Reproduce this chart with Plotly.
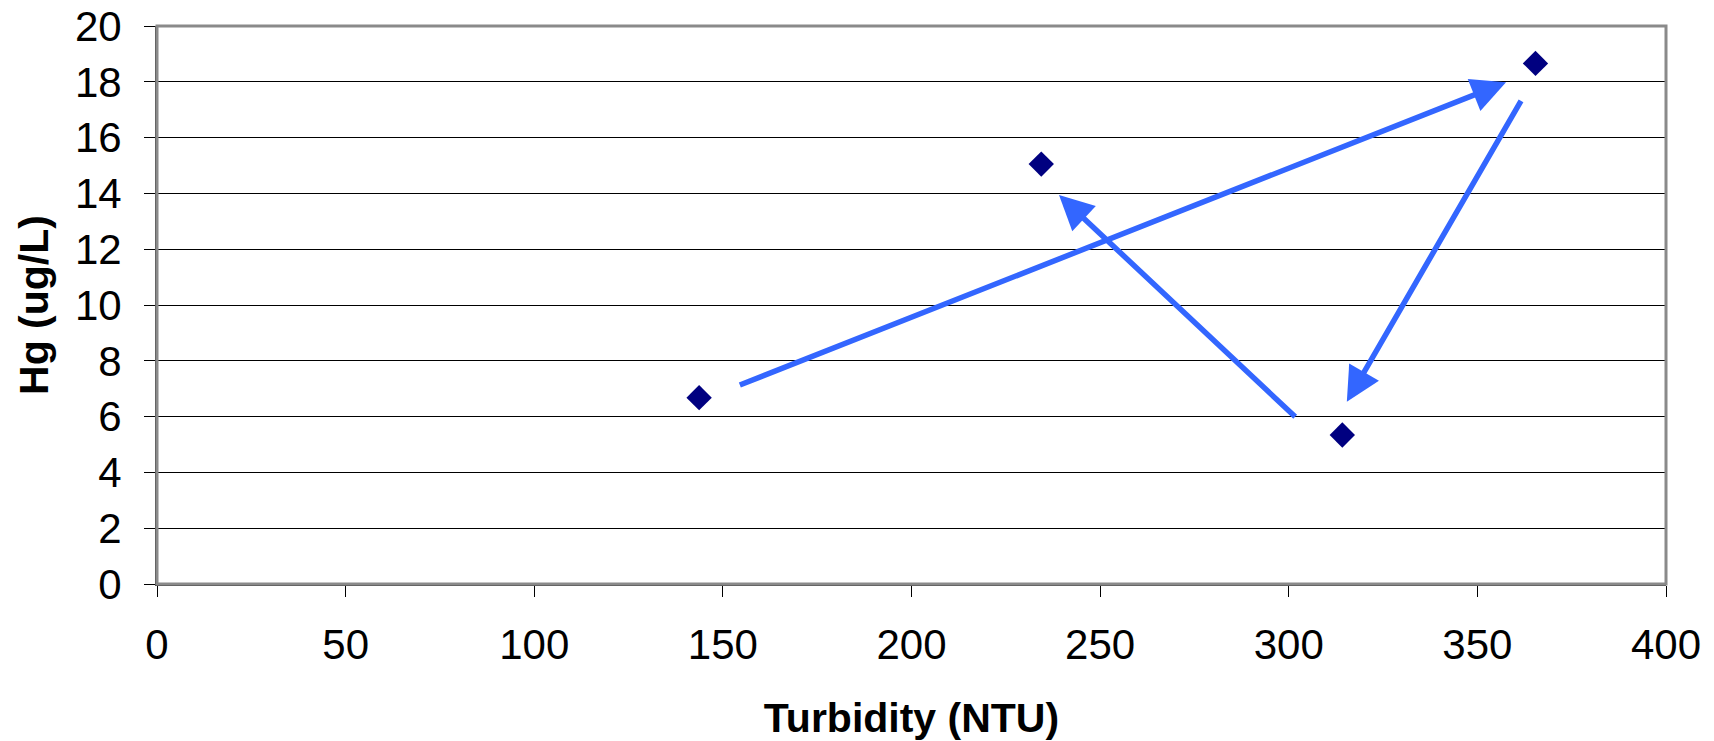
import plotly.graph_objects as go

# Data
turbidity = [143.7, 234.4, 365.4, 314.2]
mercury = [6.68, 15.05, 18.66, 5.34]

# Arrows (tail -> head) in data units
arrow_tail_x = [154.1, 361.8, 302.1]
arrow_tail_y = [7.11, 17.37, 5.94]
arrow_head_x = [357.6, 315.4, 239.1]
arrow_head_y = [17.98, 6.53, 13.94]

x_ticks = [0, 50, 100, 150, 200, 250, 300, 350, 400]
y_ticks = [0, 2, 4, 6, 8, 10, 12, 14, 16, 18, 20]

FONT = "Liberation Sans, Arial, sans-serif"

fig = go.Figure()
fig.add_trace(go.Scatter(
    x=turbidity, y=mercury, mode="markers",
    marker=dict(symbol="diamond", size=19.5, color="#000080", line=dict(width=0)),
    showlegend=False, hoverinfo="skip",
))

for tx, ty, hx, hy in zip(arrow_tail_x, arrow_tail_y, arrow_head_x, arrow_head_y):
    fig.add_annotation(
        x=hx, y=hy, ax=tx, ay=ty, xref="x", yref="y", axref="x", ayref="y",
        showarrow=True, arrowhead=2, arrowsize=1.25, arrowwidth=5.5,
        arrowcolor="#3366FF", text="", standoff=0, startstandoff=0,
    )

# plot-area border (gray frame)
fig.add_shape(type="rect", xref="paper", yref="paper", x0=0, y0=0, x1=1, y1=1,
              line=dict(color="#8a8a8a", width=3), layer="above")

fig.update_layout(
    width=1714, height=741,
    margin=dict(l=157, r=48, t=26, b=157),
    paper_bgcolor="white", plot_bgcolor="white",
    font=dict(family=FONT, color="black"),
    xaxis=dict(
        range=[0, 400], tickvals=x_ticks, ticktext=[str(v) for v in x_ticks],
        showgrid=False, zeroline=False, automargin=False,
        showline=True, linecolor="#404040", linewidth=2,
        ticks="outside", ticklen=11, tickwidth=1, tickcolor="black",
        tickfont=dict(size=42, family=FONT, color="black"),
        ticklabelstandoff=12,
        title=dict(text="<b>Turbidity (NTU)</b>", font=dict(size=41, family=FONT, color="black"),
                   standoff=36),
    ),
    yaxis=dict(
        range=[0, 20], tickvals=y_ticks, ticktext=[str(v) for v in y_ticks],
        showgrid=True, gridcolor="black", gridwidth=1,
        zeroline=False, automargin=False,
        showline=True, linecolor="#404040", linewidth=2,
        ticks="outside", ticklen=11, tickwidth=1, tickcolor="black",
        tickfont=dict(size=42, family=FONT, color="black"),
        ticklabelstandoff=14,
        title=dict(text="<b>Hg (ug/L)</b>", font=dict(size=41, family=FONT, color="black"),
                   standoff=14),
    ),
)

fig.write_html("out.html")
